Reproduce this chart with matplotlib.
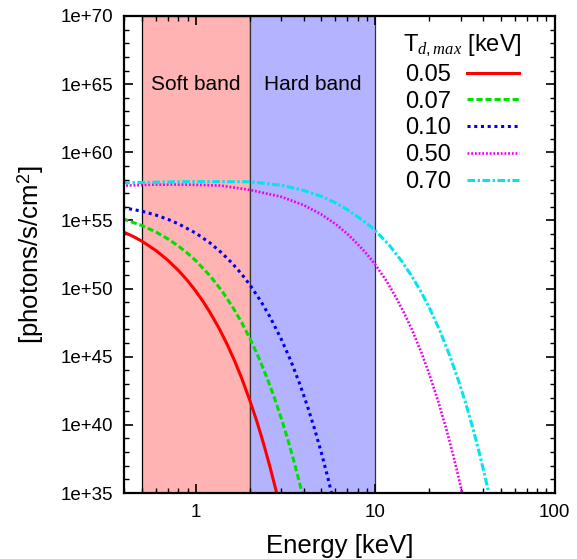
import matplotlib
matplotlib.use("Agg")
import matplotlib.pyplot as plt
from matplotlib.ticker import FixedLocator, FuncFormatter, LogLocator, NullFormatter
import numpy as np

plt.rcParams['font.family'] = ['Liberation Sans', 'DejaVu Sans']
plt.rcParams['mathtext.fontset'] = 'custom'
plt.rcParams['mathtext.rm'] = 'Liberation Sans'
plt.rcParams['mathtext.it'] = 'Liberation Serif:italic'

# ---- data (energy in keV, log10 of photons/s/cm^2) ----
temps = ["0.05", "0.07", "0.10", "0.50", "0.70"]

E_005 = [0.39, 0.45, 0.5, 0.6, 0.7, 0.8, 0.9, 1.0, 1.1, 1.2, 1.35, 1.5, 1.65, 1.8, 2.0,
         2.2, 2.4, 2.6, 2.8, 2.9]
L_005 = [54.19, 53.81, 53.48, 52.79, 52.07, 51.33, 50.58, 49.81, 49.04, 48.25, 47.07, 45.87,
         44.66, 43.44, 41.80, 40.17, 38.51, 36.85, 35.19, 34.36]

E_007 = [0.39, 0.5, 0.6, 0.7, 0.8, 0.9, 1.0, 1.2, 1.4, 1.6, 1.8, 2.0, 2.25, 2.5, 2.75,
         3.0, 3.25, 3.5, 3.75, 4.0]
L_007 = [55.13, 54.63, 54.15, 53.64, 53.12, 52.59, 52.05, 50.94, 49.82, 48.67, 47.52, 46.36,
         44.89, 43.42, 41.94, 40.46, 38.97, 37.47, 35.97, 34.47]

E_010 = [0.39, 0.5, 0.6, 0.7, 0.8, 1.0, 1.2, 1.4, 1.6, 1.8, 2.0, 2.3, 2.6, 3.0, 3.4,
         3.8, 4.2, 4.6, 5.0, 5.4, 5.8]
L_010 = [55.95, 55.68, 55.39, 55.08, 54.75, 54.07, 53.35, 52.60, 51.84, 51.07, 50.28, 49.09,
         47.89, 46.27, 44.64, 42.99, 41.33, 39.67, 38.00, 36.32, 34.64]

E_050 = [0.39, 0.6, 0.9, 1.37, 2.0, 3.0, 4.0, 5.0, 6.0, 7.0, 8.0, 9.0, 10.0, 11.5, 13.0,
         14.5, 16.0, 18.0, 20.0, 22.5, 25.0, 27.5, 30.0, 31.0]
L_050 = [57.55, 57.63, 57.63, 57.56, 57.24, 56.73, 56.12, 55.45, 54.74, 54.01, 53.25, 52.52,
         51.77, 50.60, 49.40, 48.20, 47.00, 45.38, 43.74, 41.68, 39.61, 37.53, 35.45, 34.61]

E_070 = [0.39, 0.9, 2.0, 3.0, 4.0, 5.0, 6.0, 7.0, 8.0, 9.0, 10.0, 12.0, 14.0, 16.0, 18.0,
         20.0, 23.0, 26.0, 29.0, 32.0, 35.0, 38.0, 41.0, 44.0]
L_070 = [57.76, 57.85, 57.84, 57.58, 57.20, 56.77, 56.30, 55.79, 55.26, 54.77, 54.26, 53.17,
         52.04, 50.91, 49.77, 48.62, 46.87, 45.10, 43.32, 41.56, 39.77, 37.97, 36.18, 34.37]

soft_band = (0.5, 2.0)
hard_band = (2.0, 10.0)

x_range = (0.398, 100.5)
y_range = (1e35, 1e70)
y_major = [1e35, 1e40, 1e45, 1e50, 1e55, 1e60, 1e65, 1e70]

series = [(E_005, L_005), (E_007, L_007), (E_010, L_010), (E_050, L_050), (E_070, L_070)]
colors = ["#ff0000", "#00e000", "#0000ee", "#ee00ee", "#00e5ee"]
styles = [
    dict(linestyle='-', lw=2.2),
    dict(linestyle=(0, (2.0, 0.95)), lw=2.2),
    dict(linestyle=(0, (1.0, 1.2)), lw=2.2),
    dict(linestyle=(0, (0.7, 0.7)), lw=1.9),
    dict(linestyle=(0, (2.5, 0.8, 0.8, 0.8)), lw=2.2),
]

fig = plt.figure(figsize=(5.77, 5.59), dpi=100)
ax = fig.add_axes([124/577, 1-493/559, (555-124)/577, (493-16)/559])
ax.set_xscale('log')
ax.set_yscale('log')
ax.set_xlim(*x_range)
ax.set_ylim(*y_range)

ax.axvspan(*soft_band, facecolor='#ffb3b3', edgecolor='black', lw=0.9, zorder=0)
ax.axvspan(*hard_band, facecolor='#b3b3ff', edgecolor='#333333', lw=0.9, zorder=0)

ax.text(np.sqrt(soft_band[0]*soft_band[1]), 10**65, "Soft band", ha='center', va='center', fontsize=15)
ax.text(np.sqrt(hard_band[0]*hard_band[1]), 10**65, "Hard band", ha='center', va='center', fontsize=15)

for (E, L), c, st, lab in zip(series, colors, styles, temps):
    ax.plot(E, [10**v for v in L], color=c, label=lab, **st)

ax.yaxis.set_major_locator(FixedLocator(y_major))
ax.yaxis.set_minor_locator(FixedLocator([10.0**k for k in range(35, 71) if k % 5 != 0]))
ax.yaxis.set_major_formatter(FuncFormatter(lambda v, p: "1e+%d" % round(np.log10(v))))
ax.yaxis.set_minor_formatter(NullFormatter())
ax.xaxis.set_major_locator(FixedLocator([1, 10, 100]))
ax.xaxis.set_major_formatter(FuncFormatter(lambda v, p: "%g" % v))
ax.xaxis.set_minor_locator(LogLocator(base=10, subs=np.arange(2, 10)))
ax.xaxis.set_minor_formatter(NullFormatter())

ax.tick_params(which='both', direction='in', top=True, right=True, labelsize=13.5)
ax.tick_params(which='major', length=6.5, width=1.2)
ax.tick_params(which='minor', length=3.5, width=1.0)
ax.tick_params(axis='x', pad=8)
ax.tick_params(axis='y', pad=8)
for s in ax.spines.values():
    s.set_linewidth(1.6)

ax.set_xlabel("Energy [keV]", fontsize=18.5, labelpad=9)
ax.set_ylabel("[photons/s/cm$^2$]", fontsize=18.5, labelpad=10)

leg = ax.legend(loc='upper right', frameon=False, markerfirst=False, fontsize=17,
                title="T$_{\\mathit{d,max}}$ [keV]", title_fontsize=17,
                handlelength=2.2, handletextpad=0.7, labelspacing=0.2,
                bbox_to_anchor=(0.944, 0.984), borderaxespad=0.0)

fig.savefig("out.png", dpi=100)
